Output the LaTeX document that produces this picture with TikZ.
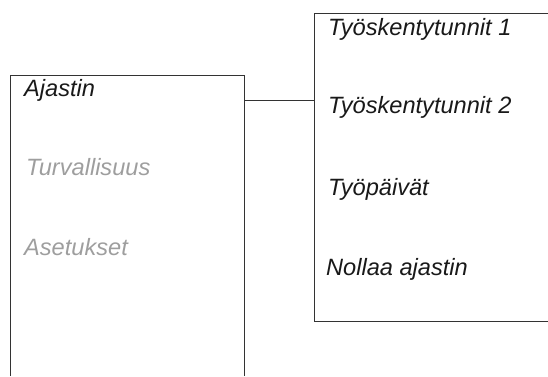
\documentclass[tikz,border=0pt]{standalone}
\usepackage{fontspec}
\setmainfont{Liberation Sans}
\begin{document}
\begin{tikzpicture}[x=1pt,y=-1pt,
  boxline/.style={draw=black!80,line width=1pt},
  itemtext/.style={anchor=base west,inner sep=0pt,font=\fontsize{23.6}{27}\selectfont\itshape,text=black!90},
  greytext/.style={itemtext,text=black!38},
  area/.style={inner sep=0pt,outer sep=0pt,anchor=north west}]
\useasboundingbox (0,0) rectangle (548,376);
\node[area,minimum width=234pt,minimum height=301pt] (lbox) at (10,75) {};
\node[area,minimum width=234pt,minimum height=308pt] (rbox) at (314,13) {};
\draw[boxline] (lbox.south west) -- (lbox.north west) -- (lbox.north east) -- (lbox.south east);
\draw[boxline] (rbox.north east) -- (rbox.north west) -- (rbox.south west) -- (rbox.south east);
\coordinate (c1) at (244,100);
\draw[boxline] (c1) -- (c1 -| rbox.west);
\node[itemtext] (t1) at (24,96) {Ajastin};
\node[greytext] (t2) at (26,175) {Turvallisuus};
\node[greytext] (t3) at (24,255) {Asetukset};
\node[itemtext] (r1) at (328,35) {Työskentytunnit 1};
\node[itemtext] (r2) at (328,113) {Työskentytunnit 2};
\node[itemtext] (r3) at (328,195) {Työpäivät};
\node[itemtext] (r4) at (326,275) {Nollaa ajastin};
\end{tikzpicture}
\end{document}
